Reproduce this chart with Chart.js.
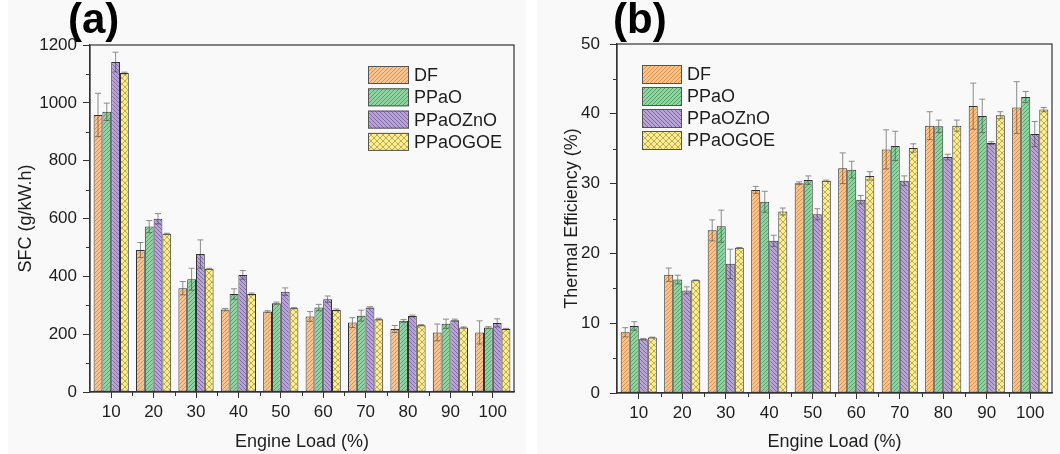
<!DOCTYPE html>
<html>
<head>
<meta charset="utf-8">
<script src="https://cdn.jsdelivr.net/npm/chart.js@4.4.1/dist/chart.umd.min.js"></script>
<style>
    body { margin: 0; background: #fff; width: 1060px; height: 454px; position: relative; overflow: hidden; }
    canvas { position: absolute; top: 0; background: #f9f9f9; }
    #sfcChart { left: 8px; }
    #effChart { left: 537px; }
</style>
</head>
<body>
<canvas id="sfcChart" width="518" height="454"></canvas>
<canvas id="effChart" width="523" height="454"></canvas>
<script>
const engineLoad = ['10', '20', '30', '40', '50', '60', '70', '80', '90', '100'];
const seriesNames = ['DF', 'PPaO', 'PPaOZnO', 'PPaOGOE'];

// (a) SFC (g/kW.h)
const sfcDF = [958, 491, 359, 285, 278, 261, 240, 218, 206, 206];
const sfcDFErr = [75, 26, 23, 4, 3, 17, 17, 12, 29, 40];
const sfcPPaO = [969, 572, 390, 339, 307, 292, 264, 246, 236, 223];
const sfcPPaOErr = [30, 21, 38, 18, 4, 11, 19, 5, 16, 3];
const sfcZnO = [1141, 599, 477, 405, 347, 321, 292, 263, 248, 239];
const sfcZnOErr = [34, 18, 49, 15, 13, 11, 3, 3, 4, 14];
const sfcGOE = [1103, 547, 426, 339, 290, 284, 252, 231, 223, 218];
const sfcGOEErr = [3, 2, 2, 3, 2, 3, 3, 2, 2, 2];

// (b) Thermal efficiency (%)
const effDF = [8.7, 16.95, 23.3, 29.1, 30.05, 32.2, 34.9, 38.3, 41.1, 40.9];
const effDFErr = [0.66, 0.95, 1.5, 0.5, 0.2, 2.2, 2.8, 2.0, 3.3, 3.7];
const effPPaO = [9.6, 16.25, 23.9, 27.4, 30.5, 32.0, 35.4, 38.2, 39.7, 42.4];
const effPPaOErr = [0.62, 0.62, 2.3, 1.5, 0.6, 1.2, 2.1, 0.9, 2.4, 0.8];
const effZnO = [7.7, 14.7, 18.5, 21.8, 25.6, 27.7, 30.4, 33.8, 35.8, 37.1];
const effZnOErr = [0.1, 0.5, 2.1, 0.8, 0.8, 0.6, 0.7, 0.4, 0.2, 1.8];
const effGOE = [7.95, 16.15, 20.8, 26.0, 30.4, 31.1, 35.1, 38.3, 39.8, 40.6];
const effGOEErr = [0.05, 0.05, 0.05, 0.5, 0.1, 0.6, 0.6, 0.8, 0.5, 0.3];

const FONT = "'Liberation Sans', Arial, sans-serif";
const TEXT = '#1e1e1e';

function makePattern(bg, line, kind) {
    const size = kind === 'cross' ? 6 : 4;
    const c = document.createElement('canvas');
    c.width = size;
    c.height = size;
    const g = c.getContext('2d');
    g.fillStyle = bg;
    g.fillRect(0, 0, size, size);
    g.strokeStyle = line;
    g.lineWidth = 0.9;
    g.beginPath();
    if (kind === 'up' || kind === 'cross') {
        g.moveTo(0, size); g.lineTo(size, 0);
        g.moveTo(-1, 1); g.lineTo(1, -1);
        g.moveTo(size - 1, size + 1); g.lineTo(size + 1, size - 1);
    }
    if (kind === 'down' || kind === 'cross') {
        g.moveTo(0, 0); g.lineTo(size, size);
        g.moveTo(size - 1, -1); g.lineTo(size + 1, 1);
        g.moveTo(-1, size - 1); g.lineTo(1, size + 1);
    }
    g.stroke();
    return g.createPattern(c, 'repeat');
}

const fills = [
    makePattern('#f8c38e', '#d98c45', 'up'),
    makePattern('#8fd4a0', '#4f9c62', 'up'),
    makePattern('#b9a4d8', '#76619e', 'down'),
    makePattern('#fcec92', '#b9a548', 'cross')
];

// error bars drawn on top of each bar (upper half light, lower half inside the bar)
const errorBars = {
    id: 'errorBars',
    afterDatasetsDraw(chart) {
        const ctx = chart.ctx;
        const y = chart.scales.y;
        chart.data.datasets.forEach((ds, i) => {
            const meta = chart.getDatasetMeta(i);
            meta.data.forEach((bar, j) => {
                const v = ds.data[j];
                const e = ds.errors[j];
                const yTop = y.getPixelForValue(v + e);
                const yBar = y.getPixelForValue(v);
                const yLow = y.getPixelForValue(v - e);
                const cap = 3;
                ctx.save();
                ctx.lineWidth = 1;
                ctx.strokeStyle = '#8c8c8c';
                ctx.beginPath();
                ctx.moveTo(bar.x, yBar);
                ctx.lineTo(bar.x, yTop);
                ctx.moveTo(bar.x - cap, yTop);
                ctx.lineTo(bar.x + cap, yTop);
                ctx.stroke();
                ctx.strokeStyle = 'rgba(60,60,60,0.55)';
                ctx.beginPath();
                ctx.moveTo(bar.x, yBar);
                ctx.lineTo(bar.x, yLow);
                ctx.moveTo(bar.x - cap, yLow);
                ctx.lineTo(bar.x + cap, yLow);
                ctx.stroke();
                ctx.restore();
            });
        });
    }
};

// box around the plot, minor ticks and the panel letter
const frame = {
    id: 'frame',
    afterDraw(chart, args, opts) {
        const ctx = chart.ctx;
        const a = chart.chartArea;
        const x = chart.scales.x;
        const y = chart.scales.y;
        ctx.save();
        ctx.strokeStyle = '#333';
        ctx.lineWidth = 1.2;
        ctx.strokeRect(a.left, a.top, a.right - a.left, a.bottom - a.top);

        ctx.lineWidth = 1;
        ctx.beginPath();
        for (let v = opts.minorStep; v < y.max; v += opts.minorStep * 2) {
            const py = Math.round(y.getPixelForValue(v)) + 0.5;
            ctx.moveTo(a.left, py);
            ctx.lineTo(a.left - 4, py);
        }
        const step = x.getPixelForValue(1) - x.getPixelForValue(0);
        for (let i = 1; i < engineLoad.length; i++) {
            const px = Math.round(x.getPixelForValue(i) - step / 2) + 0.5;
            ctx.moveTo(px, a.bottom);
            ctx.lineTo(px, a.bottom + 4);
        }
        ctx.stroke();

        ctx.fillStyle = '#000';
        ctx.font = 'bold 42px ' + FONT;
        ctx.textBaseline = 'alphabetic';
        ctx.fillText(opts.label, opts.labelX, 33);
        ctx.restore();
    }
};

const insideLegend = {
    id: 'insideLegend',
    afterDraw(chart, args, opts) {
        const ctx = chart.ctx;
        ctx.save();
        ctx.font = '18px ' + FONT;
        ctx.textBaseline = 'middle';
        chart.data.datasets.forEach((ds, i) => {
            const top = opts.y + i * opts.step;
            ctx.fillStyle = ds.backgroundColor;
            ctx.fillRect(opts.x, top, opts.boxW, opts.boxH);
            ctx.strokeStyle = '#555';
            ctx.lineWidth = 1;
            ctx.strokeRect(opts.x + 0.5, top + 0.5, opts.boxW - 1, opts.boxH - 1);
            ctx.fillStyle = TEXT;
            ctx.fillText(ds.label, opts.x + opts.boxW + 5, top + opts.boxH / 2 + 1);
        });
        ctx.restore();
    }
};

function buildDatasets(values, errors) {
    return values.map((data, i) => ({
        label: seriesNames[i],
        data: data,
        errors: errors[i],
        backgroundColor: fills[i],
        borderColor: '#333',
        borderWidth: 1,
        borderSkipped: false,
        categoryPercentage: 0.83,
        barPercentage: 1.0
    }));
}

function makeChart(canvasId, cfg) {
    const canvas = document.getElementById(canvasId);
    return new Chart(canvas.getContext('2d'), {
        type: 'bar',
        data: {
            labels: engineLoad,
            datasets: buildDatasets(cfg.values, cfg.errors)
        },
        plugins: [errorBars, frame, insideLegend],
        options: {
            responsive: false,
            animation: false,
            layout: {
                padding: { left: 0, top: cfg.top, right: canvas.width - cfg.right, bottom: 0 }
            },
            plugins: {
                legend: { display: false },
                tooltip: { enabled: false },
                frame: { label: cfg.label, labelX: cfg.labelX, minorStep: cfg.minorStep },
                insideLegend: cfg.legend
            },
            scales: {
                x: {
                    afterFit: (scale) => { scale.height = canvas.height - cfg.bottom; },
                    grid: { drawOnChartArea: false, offset: false, tickLength: 6, color: '#333' },
                    border: { color: '#333', width: 1.2 },
                    ticks: { color: TEXT, padding: 4, font: { family: FONT, size: 17 } },
                    title: {
                        display: true,
                        text: 'Engine Load (%)',
                        color: TEXT,
                        padding: { top: 0, bottom: 1 },
                        font: { family: FONT, size: 18 }
                    }
                },
                y: {
                    min: 0,
                    max: cfg.max,
                    afterFit: (scale) => { scale.width = cfg.left; },
                    grid: { drawOnChartArea: false, tickLength: 7, color: '#333' },
                    border: { color: '#333', width: 1.2 },
                    ticks: {
                        stepSize: cfg.step,
                        color: TEXT,
                        padding: cfg.tickPad,
                        font: { family: FONT, size: 17 },
                        callback: (value) => String(value)
                    },
                    title: {
                        display: true,
                        text: cfg.yTitle,
                        color: TEXT,
                        padding: { top: cfg.titlePad, bottom: 0 },
                        font: { family: FONT, size: 18 }
                    }
                }
            }
        }
    });
}

makeChart('sfcChart', {
    values: [sfcDF, sfcPPaO, sfcZnO, sfcGOE],
    errors: [sfcDFErr, sfcPPaOErr, sfcZnOErr, sfcGOEErr],
    yTitle: 'SFC (g/kW.h)',
    max: 1200, step: 200, minorStep: 100,
    left: 82, right: 506, top: 45, bottom: 392,
    tickPad: 6, titlePad: 7,
    label: '(a)', labelX: 60,
    legend: { x: 360, y: 66, step: 22.3, boxW: 41, boxH: 18 }
});

makeChart('effChart', {
    values: [effDF, effPPaO, effZnO, effGOE],
    errors: [effDFErr, effPPaOErr, effZnOErr, effGOEErr],
    yTitle: 'Thermal Efficiency (%)',
    max: 50, step: 10, minorStep: 5,
    left: 80, right: 515, top: 44, bottom: 393,
    tickPad: 10, titlePad: 24,
    label: '(b)', labelX: 76,
    legend: { x: 105, y: 65, step: 22, boxW: 40, boxH: 19 }
});
</script>
</body>
</html>
